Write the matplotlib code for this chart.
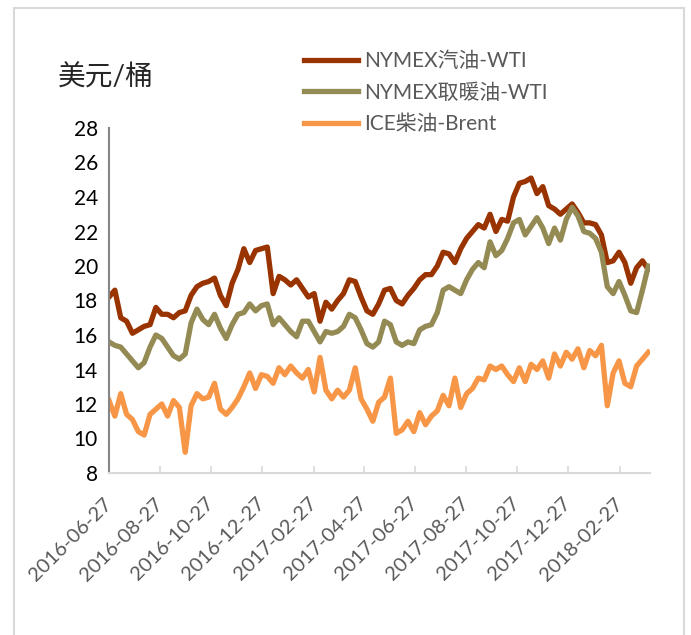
import matplotlib
matplotlib.use("Agg")
import matplotlib.pyplot as plt
from matplotlib.patches import Rectangle
import pandas as pd

plt.rcParams["font.family"] = ["Lato", "Noto Sans CJK SC", "DejaVu Sans"]

# weekly readings
dates = pd.date_range("2016-06-27", periods=93, freq="7D")

gasoline = [18.2, 18.6, 17.0, 16.8, 16.1, 16.3, 16.5, 16.6, 17.6, 17.2,
            17.2, 17.0, 17.3, 17.4, 18.3, 18.8, 19.0, 19.1, 19.3, 18.3,
            17.7, 19.0, 19.8, 21.0, 20.2, 20.9, 21.0, 21.1, 18.4, 19.4,
            19.2, 18.9, 19.2, 18.7, 18.2, 18.4, 16.8, 17.9, 17.5, 18.0,
            18.4, 19.2, 19.1, 18.2, 17.4, 17.2, 17.8, 18.6, 18.7, 18.0,
            17.8, 18.3, 18.7, 19.2, 19.5, 19.5, 20.0, 20.8, 20.7, 20.2,
            21.0, 21.6, 22.0, 22.4, 22.2, 23.0, 22.0, 22.7, 22.6, 24.0,
            24.8, 24.9, 25.1, 24.2, 24.6, 23.5, 23.3, 23.0, 23.3, 23.6,
            23.1, 22.5, 22.5, 22.4, 21.8, 20.2, 20.3, 20.8, 20.2, 19.0,
            19.9, 20.3, 19.8]

heating = [15.6, 15.4, 15.3, 14.9, 14.5, 14.1, 14.4, 15.3, 16.0, 15.8,
           15.3, 14.8, 14.6, 14.9, 16.7, 17.5, 16.9, 16.6, 17.2, 16.4,
           15.8, 16.6, 17.2, 17.3, 17.8, 17.4, 17.7, 17.8, 16.6, 17.0,
           16.6, 16.2, 15.9, 16.8, 16.8, 16.2, 15.6, 16.2, 16.1, 16.2,
           16.5, 17.2, 17.0, 16.3, 15.5, 15.3, 15.6, 16.8, 16.6, 15.6,
           15.4, 15.6, 15.5, 16.3, 16.5, 16.6, 17.3, 18.6, 18.8, 18.6,
           18.4, 19.2, 19.8, 20.2, 19.9, 21.4, 20.6, 20.9, 21.6, 22.5,
           22.7, 21.8, 22.3, 22.8, 22.2, 21.3, 22.2, 21.5, 22.7, 23.4,
           22.9, 22.0, 21.9, 21.6, 20.8, 18.8, 18.4, 19.1, 18.3, 17.4,
           17.3, 18.6, 20.0]

diesel = [12.2, 11.3, 12.6, 11.4, 11.1, 10.4, 10.2, 11.4, 11.7, 12.0,
          11.3, 12.2, 11.8, 9.2, 11.9, 12.6, 12.3, 12.4, 13.2, 11.7,
          11.4, 11.8, 12.3, 13.0, 13.8, 12.9, 13.7, 13.6, 13.2, 14.1,
          13.7, 14.2, 13.8, 13.5, 14.0, 12.7, 14.7, 12.8, 12.3, 12.8,
          12.4, 12.8, 14.1, 12.3, 11.7, 11.0, 12.1, 12.4, 13.5, 10.3,
          10.5, 11.0, 10.4, 11.5, 10.8, 11.3, 11.6, 12.5, 11.9, 13.5,
          11.8, 12.6, 12.9, 13.5, 13.4, 14.2, 14.0, 14.2, 13.7, 13.3,
          14.1, 13.3, 14.3, 14.0, 14.5, 13.5, 14.9, 14.2, 15.0, 14.6,
          15.2, 14.1, 15.1, 14.8, 15.4, 11.9, 13.8, 14.5, 13.2, 13.0,
          14.2, 14.6, 15.0]

labels = ["NYMEX汽油-WTI", "NYMEX取暖油-WTI", "ICE柴油-Brent"]
colors = ["#993300", "#948A54", "#F79646"]

tick_dates = pd.date_range("2016-06-27", "2018-02-27", freq=pd.DateOffset(months=2))
tick_labels = [d.strftime("%Y-%m-%d") for d in tick_dates]

fig = plt.figure(figsize=(6.91, 6.35), dpi=100)
ax = fig.add_axes([109 / 691, 1 - 473 / 635, 541 / 691, 345 / 635])

for vals, lab, col in zip([gasoline, heating, diesel], labels, colors):
    ax.plot(dates, vals, color=col, lw=3.8, label=lab, solid_joinstyle="round")

ax.set_ylim(8, 28)
ax.set_yticks(range(8, 29, 2))
ax.set_xlim(pd.Timestamp("2016-06-27"), pd.Timestamp("2018-04-04"))
ax.set_xticks(tick_dates)
ax.set_xticklabels(tick_labels, rotation=45, ha="right", va="center",
                   rotation_mode="anchor", color="#595959", fontsize=14.5)

for s in ["top", "right"]:
    ax.spines[s].set_visible(False)
ax.spines["left"].set_color("#868686")
ax.spines["left"].set_linewidth(1.5)
ax.spines["bottom"].set_color("#d9d9d9")
ax.spines["bottom"].set_linewidth(1.5)
ax.tick_params(axis="y", length=0, labelsize=15, labelcolor="black", pad=8)
ax.tick_params(axis="x", direction="in", length=5, width=1.2, color="#d9d9d9", pad=20)

fig.text(58 / 691, 1 - 77 / 635, "美元/桶", fontsize=20, va="center", ha="left", color="#262626")

ax.legend(loc="upper left", bbox_to_anchor=(304 / 691, 1 - 51 / 635),
          bbox_transform=fig.transFigure, frameon=False, fontsize=15,
          labelcolor="#595959", handlelength=2.6, handletextpad=0.3,
          borderpad=0, borderaxespad=0, labelspacing=0.56)

fig.patches.append(Rectangle((14 / 691, -0.02), 670 / 691, 1.02 - 8 / 635,
                             transform=fig.transFigure, fill=False,
                             edgecolor="#d9d9d9", lw=1.5))

fig.savefig("out.png", dpi=100)
